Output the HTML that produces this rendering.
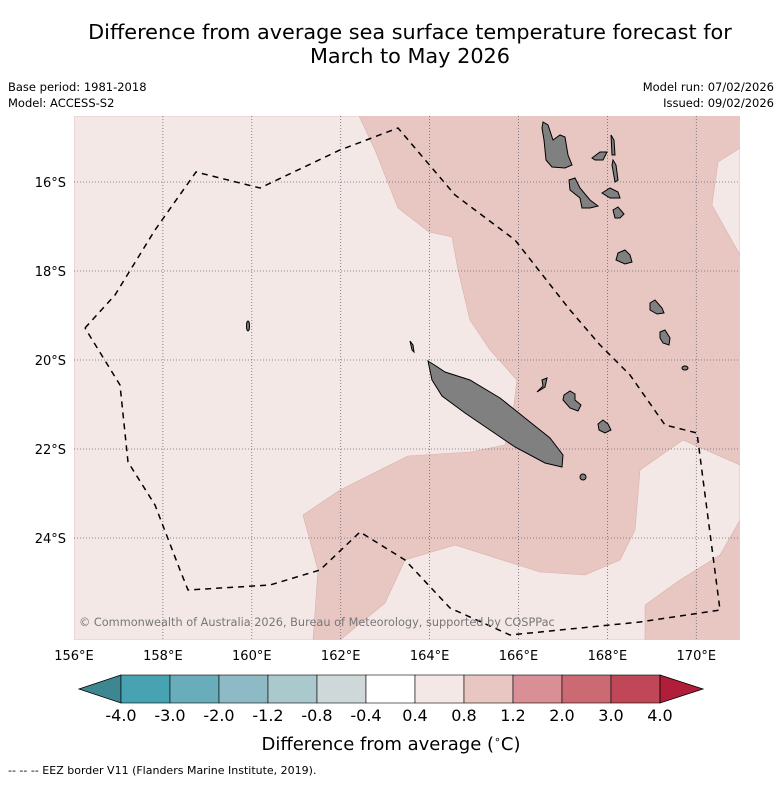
<!DOCTYPE html>
<html><head><meta charset="utf-8"><style>
body{margin:0;background:#fff;font-family:"Liberation Sans","DejaVu Sans",sans-serif}
svg text{font-family:"DejaVu Sans","Liberation Sans",sans-serif}
</style></head><body>
<svg id="c" width="781" height="781" viewBox="0 0 781 781">
<text x="410" y="39" text-anchor="middle" font-size="20.8">Difference from average sea surface temperature forecast for</text>
<text x="410" y="63" text-anchor="middle" font-size="20.8">March to May 2026</text>
<text x="8" y="91" font-size="11.5">Base period: 1981-2018</text>
<text x="8" y="107" font-size="11.5">Model: ACCESS-S2</text>
<text x="774" y="91" font-size="11.5" text-anchor="end">Model run: 07/02/2026</text>
<text x="774" y="107" font-size="11.5" text-anchor="end">Issued: 09/02/2026</text>
<defs><clipPath id="mc"><rect x="74" y="116" width="666" height="524"/></clipPath></defs>
<g clip-path="url(#mc)">
<rect x="74" y="116" width="666" height="524" fill="#e8c7c3"/>
<g fill="#f4e8e7" stroke="#d9b0ab" stroke-width="0.6">
<polygon points="74,116 359,116 375,150 398,208 429,232 452,237 458,270 470,320 490,350 517,380 512,420 505,445 470,452 408,456 380,470 340,490 303,515 318,570 313,640 74,640"/>
<polygon points="340,640 385,603 405,560 455,545 540,572 585,575 620,560 635,530 640,470 683,440 740,465 740,520 720,555 680,580 645,605 645,640"/>
<polygon points="740,148 718,162 712,205 740,255"/>
</g>
<g id="grid" stroke="#667" stroke-width="0.8" stroke-dasharray="1,2"></g>
<polyline fill="none" stroke="#000" stroke-width="1.5" stroke-dasharray="6,5" points="85,328 115,295 155,230 196,172 260,188 340,150 398,128 455,195 515,240 570,310 600,345 630,375 665,425 697,433 720,610 640,622 510,635 450,608 405,560 360,532 320,570 270,585 188,590 180,570 155,505 128,462 120,385 85,328"/>
<g fill="#808080" stroke="#000" stroke-width="1">
<polygon points="428,361 436,366 445,372 470,380 500,398 525,418 550,438 563,455 562,467 545,463 515,447 490,430 465,413 442,396 432,380"/>
<polygon points="543,122 548,125 553,140 560,135 565,137 568,155 572,165 565,168 552,167 546,160 544,140 542,128"/>
<polygon points="569,180 575,178 580,188 590,200 598,206 590,208 582,208 580,198 570,190"/>
<polygon points="592,158 600,152 607,152 603,160 595,160"/>
<polygon points="611,135 614,140 615,155 612,155"/>
<polygon points="613,160 616,165 618,180 615,182 612,165"/>
<polygon points="602,193 610,188 618,192 620,198 610,198"/>
<polygon points="613,210 618,207 624,214 620,218 615,218"/>
<polygon points="618,253 625,250 630,255 632,262 625,264 616,260"/>
<polygon points="650,303 655,300 662,308 664,313 657,314 650,310"/>
<polygon points="660,332 665,330 670,338 669,345 663,343 660,338"/>
<ellipse cx="685" cy="368" rx="3" ry="2"/>
<polygon points="542,380 547,378 545,387 537,392 543,386"/>
<polygon points="564,395 570,391 575,394 575,400 581,405 578,411 570,408 563,400"/>
<polygon points="598,424 603,420 608,424 611,430 605,433 599,430"/>
<ellipse cx="583" cy="477" rx="3" ry="3"/>
<ellipse cx="248" cy="326" rx="1.5" ry="5"/>
<polygon points="410,341 413,345 414,352 412,350"/>
</g>
</g>
<text x="79" y="626" font-size="11.3" fill="#777">© Commonwealth of Australia 2026, Bureau of Meteorology, supported by COSPPac</text>
<g id="xt" font-size="13" text-anchor="middle"></g>
<g id="yt" font-size="13" text-anchor="end"></g>
<g id="cb"></g>
<text x="391" y="750" text-anchor="middle" font-size="18">Difference from average (<tspan font-size="11" dy="-7">∘</tspan><tspan dy="7">C)</tspan></text>
<text x="8" y="774" font-size="11">--  --  -- EEZ border V11 (Flanders Marine Institute, 2019).</text>
</svg>
<script>
const lonTicks=[156,158,160,162,164,166,168,170];
const latTicks=[16,18,20,22,24];
const cbLabels=["-4.0","-3.0","-2.0","-1.2","-0.8","-0.4","0.4","0.8","1.2","2.0","3.0","4.0"];
const cbColors=["#47a3b2","#6aadba","#8dbac4","#aac9cc","#cfd8d9","#ffffff","#f4e8e7","#e8c7c3","#d88f95","#cc6a74","#bf4757"];
const ns="http://www.w3.org/2000/svg";
const xs=lon=>74+(lon-156)*44.45;
const ys=lat=>182+(lat-16)*44.5;
function mk(t,a,p){const e=document.createElementNS(ns,t);for(const k in a)e.setAttribute(k,a[k]);p.appendChild(e);return e;}
const g=document.getElementById('grid'),xt=document.getElementById('xt'),yt=document.getElementById('yt'),cb=document.getElementById('cb');
lonTicks.forEach(l=>{const x=xs(l);
 if(l>156){const ln=mk('line',{x1:x,x2:x,y1:116,y2:640},g);}
 const t=mk('text',{x:x,y:660},xt);t.textContent=l+'°E';
 });
latTicks.forEach(l=>{const y=ys(l);
 const ln=mk('line',{x1:74,x2:740,y1:y,y2:y},g);
 
 const t=mk('text',{x:66,y:y+5},yt);t.textContent=l+'°S';
 });
const bx0=121,bw=49,by=675,bh=28;
const l=mk('polygon',{points:`${bx0},${by} 79,${by+bh/2} ${bx0},${by+bh}`,fill:"#3d8792",stroke:"#000","stroke-width":0.8},cb);

cbColors.forEach((c,i)=>{const r=mk('rect',{x:bx0+i*bw,y:by,width:bw,height:bh,fill:c,stroke:"#000","stroke-width":0.6},cb);
 });
const xe=bx0+cbColors.length*bw;
const r=mk('polygon',{points:`${xe},${by} ${xe+43},${by+bh/2} ${xe},${by+bh}`,fill:"#b01e3a",stroke:"#000","stroke-width":0.8},cb);

cbLabels.forEach((s,i)=>{const t=mk('text',{x:bx0+i*bw,y:721,"font-size":16,"text-anchor":"middle"},cb);t.textContent=s;
 });
</script>
</body></html>
